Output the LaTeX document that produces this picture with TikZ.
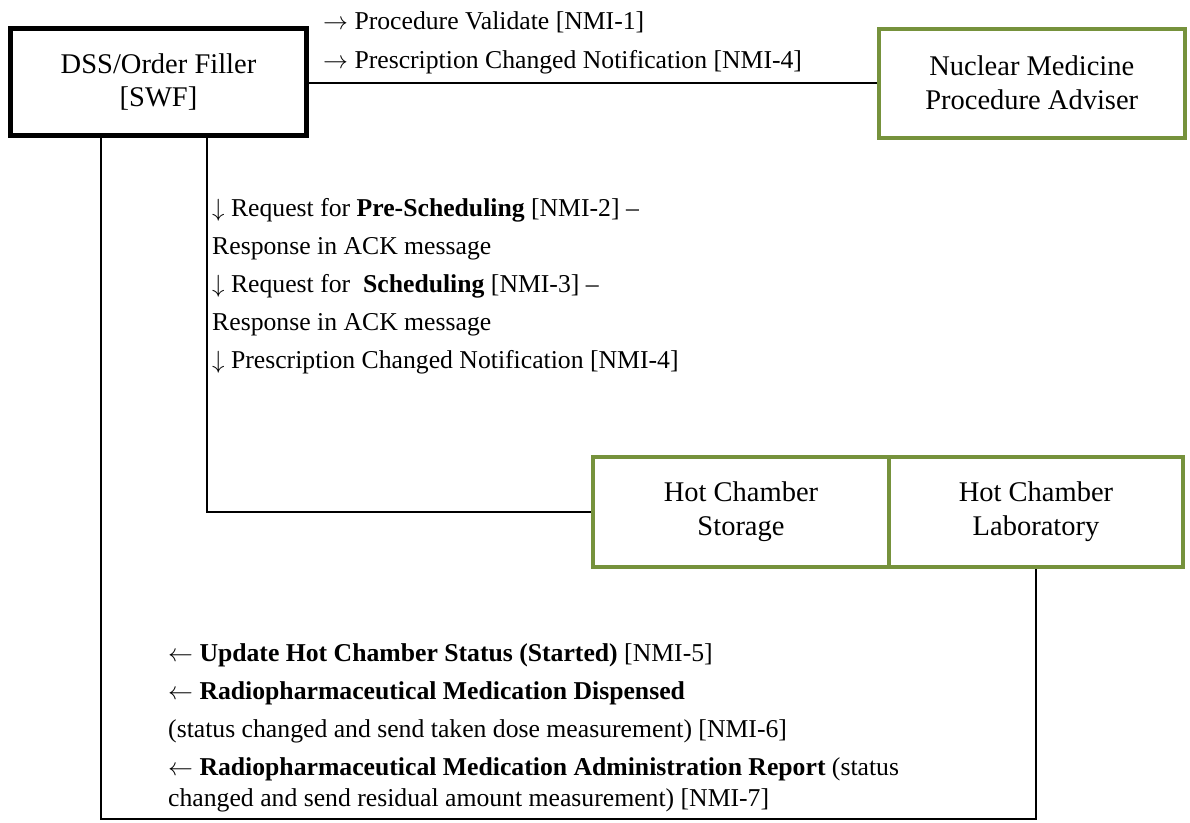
\documentclass[tikz,border=0pt]{standalone}
\usepackage{fontspec}
\setmainfont{Liberation Serif}
\definecolor{olive}{RGB}{118,146,60}
\newcommand{\ra}{$\rightarrow$}
\newcommand{\da}{$\downarrow$}
\newcommand{\la}{$\leftarrow$}
\tikzset{
  actor/.style={draw=black, line width=5pt, minimum width=296pt, minimum height=107pt,
    align=center, inner sep=0pt, font=\fontsize{28.5}{33}\selectfont},
  partner/.style={draw=olive, line width=4pt, minimum height=110pt,
    align=center, inner sep=0pt, font=\fontsize{28.5}{34}\selectfont},
  link/.style={draw=black, line width=1.3pt},
  msg/.style={anchor=base west, inner sep=0pt, font=\fontsize{25.7}{30}\selectfont},
}
\begin{document}
\begin{tikzpicture}[x=1pt, y=-1pt]
\useasboundingbox (0,0) rectangle (1190,822);

% actors
\node[actor] (dss) at (158.5,82) {DSS/Order Filler\\{}[SWF]};
\node[partner, minimum width=306.5pt, minimum height=109pt] (nmpa) at (1031.75,83)
  {Nuclear Medicine\\Procedure Adviser};
\node[partner, minimum width=296pt] (hcs) at (741,512) {Hot Chamber\\Storage};
\node[partner, minimum width=294pt] (hcl) at (1036,512) {Hot Chamber\\Laboratory};

% connectors
\draw[link] (dss.east |- 0,83) -- (nmpa.west);
\draw[link] ([xshift=48.5pt]dss.south) |- (hcs.west);
\coordinate (loop) at (1036,819);
\draw[link] ([xshift=-57.5pt]dss.south) |- (loop) -- (hcl.south);

% messages to the procedure adviser
\node[msg] (m1) at (323,29) {\ra{} Procedure Validate [NMI-1]};
\node[msg] (m4a) at (323,68) {\ra{} Prescription Changed Notification [NMI-4]};

% messages to the hot chamber
\node[msg] (m2) at (212,216) {\da{} Request for \textbf{Pre-Scheduling} [NMI-2] –};
\node[msg] (m2r) at (212,254) {Response in ACK message};
\node[msg] (m3) at (212,292) {\da{} Request for\ \ \textbf{Scheduling} [NMI-3] –};
\node[msg] (m3r) at (212,330) {Response in ACK message};
\node[msg] (m4b) at (212,368) {\da{} Prescription Changed Notification [NMI-4]};

% messages from the hot chamber
\node[msg] (m5) at (168,661) {\la{} \textbf{Update Hot Chamber Status (Started)} [NMI-5]};
\node[msg] (m6) at (168,699) {\la{} \textbf{Radiopharmaceutical Medication Dispensed}};
\node[msg] (m6b) at (168,737) {(status changed and send taken dose measurement) [NMI-6]};
\node[msg] (m7) at (168,775) {\la{} \textbf{Radiopharmaceutical Medication Administration Report} (status};
\node[msg] (m7b) at (168,806) {changed and send residual amount measurement) [NMI-7]};
\end{tikzpicture}
\end{document}
